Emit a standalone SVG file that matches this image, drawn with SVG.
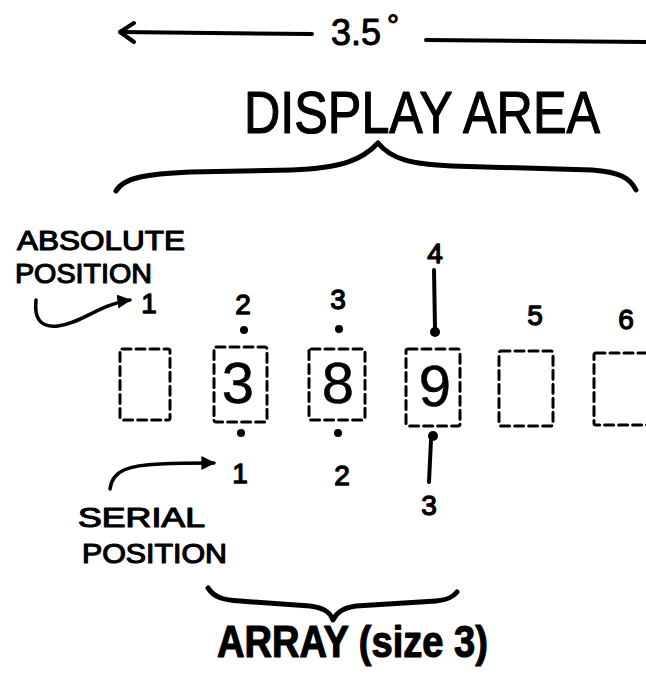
<svg xmlns="http://www.w3.org/2000/svg" width="646" height="682" viewBox="0 0 646 682">
<style>
  .ink { fill: none; stroke: #000; stroke-linecap: round; stroke-linejoin: round; }
  .box { fill: none; stroke: #000; stroke-width: 3; stroke-dasharray: 9 5; stroke-linecap: round; }
  .t { font-family: "Liberation Sans", "DejaVu Sans", sans-serif; fill: #000; stroke: #000; stroke-width: 1; stroke-linejoin: round; }
  .num { font-size: 28px; text-anchor: middle; stroke-width: 1.3; }
  .digit { font-size: 58px; text-anchor: middle; stroke-width: 0.5; }
  .lbl { font-size: 28px; stroke-width: 1.2; }
  .dot { fill: #000; }
</style>
<defs>
  <marker id="head" viewBox="0 0 10 10" refX="9" refY="5" markerWidth="4" markerHeight="4" orient="auto" markerUnits="strokeWidth">
    <path d="M0,0 L10,5 L0,10 Z" fill="#000"/>
  </marker>
</defs>

<g id="angle">
  <path class="ink" stroke-width="4" d="M120,32 L312,34"/>
  <path class="ink" stroke-width="4" d="M134,23 L120,32 L134,42"/>
  <text class="t" x="331" y="45" font-size="36" stroke-width="0.8">3.5<tspan dx="6" dy="-10" font-size="30">°</tspan></text>
  <path class="ink" stroke-width="4" d="M426,40 L646,42"/>
</g>

<g id="display-area">
  <text class="t" transform="translate(244,133) scale(1,1.2)" x="0" y="0" font-size="49" stroke-width="2" textLength="356" lengthAdjust="spacingAndGlyphs">DISPLAY AREA</text>
  <path class="ink" stroke-width="5" d="M116,191 C124,177 148,174 190,172 L292,170 C342,168 362,160 378,143 C392,160 412,164 452,166 L592,170 C620,172 630,178 636,190"/>
</g>

<g id="absolute-label">
  <text class="t lbl" x="17" y="250" textLength="168" lengthAdjust="spacingAndGlyphs">ABSOLUTE</text>
  <text class="t lbl" x="15" y="283" textLength="137" lengthAdjust="spacingAndGlyphs">POSITION</text>
</g>

<g id="absolute-numbers">
  <text class="t num" x="149" y="313">1</text>
  <text class="t num" x="243" y="314">2</text>
  <text class="t num" x="338" y="309">3</text>
  <text class="t num" x="435" y="263">4</text>
  <text class="t num" x="535" y="325">5</text>
  <text class="t num" x="626" y="329">6</text>
</g>

<g id="box1"><rect class="box" x="120" y="349" width="50" height="71" rx="2"/></g>
<g id="box2"><rect class="box" x="214" y="347" width="53" height="75" rx="2"/><text class="t digit" x="238" y="403">3</text></g>
<g id="box3"><rect class="box" x="309" y="349" width="56" height="71" rx="2"/><text class="t digit" x="338" y="403">8</text></g>
<g id="box4"><rect class="box" x="406" y="349" width="54" height="77" rx="2"/><text class="t digit" x="435" y="406">9</text></g>
<g id="box5"><rect class="box" x="499" y="351" width="54" height="75" rx="2"/></g>
<g id="box6"><rect class="box" x="594" y="353" width="60" height="72" rx="2"/></g>

<g id="serial-numbers">
  <text class="t num" x="240" y="483">1</text>
  <text class="t num" x="342" y="485">2</text>
  <text class="t num" x="429" y="515">3</text>
</g>

<g id="serial-label">
  <text class="t lbl" x="78" y="527" textLength="127" lengthAdjust="spacingAndGlyphs">SERIAL</text>
  <text class="t lbl" x="82" y="563" textLength="145" lengthAdjust="spacingAndGlyphs">POSITION</text>
</g>

<g id="array">
  <path class="ink" stroke-width="5" d="M208,588 C214,597 222,600 240,601 L310,606 C324,608 330,612 333,620 C337,612 343,608 356,606 L436,601 C448,600 453,597 457,592"/>
  <text class="t" transform="translate(217,657) scale(1,1.15)" x="0" y="0" font-size="38" font-weight="bold" stroke-width="0.8" textLength="271" lengthAdjust="spacingAndGlyphs">ARRAY (size 3)</text>
</g>

<g id="connectors">
  <path class="ink" stroke-width="3.5" marker-end="url(#head)" d="M36,300 C34,318 40,328 58,326 C80,324 100,304 130,300"/>
  <path class="ink" stroke-width="3.5" marker-end="url(#head)" d="M110,489 C112,470 130,465 160,464 C180,463 196,463 214,463"/>
  <path class="ink" stroke-width="4" d="M434,270 L435,328"/>
  <path class="ink" stroke-width="4" d="M431,440 L429,482"/>
  <circle class="dot" cx="244" cy="330" r="4"/>
  <circle class="dot" cx="339" cy="329" r="4"/>
  <circle class="dot" cx="435" cy="332" r="5"/>
  <circle class="dot" cx="241" cy="433" r="4"/>
  <circle class="dot" cx="338" cy="433" r="4"/>
  <circle class="dot" cx="433" cy="436" r="5"/>
</g>
</svg>
